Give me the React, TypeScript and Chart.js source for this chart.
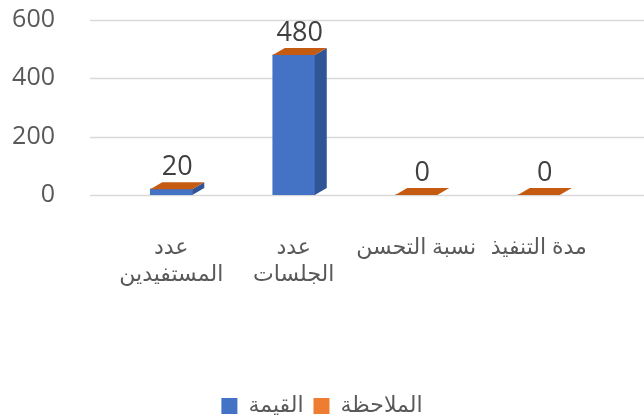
import { useEffect, useRef } from "react";
import { Chart, registerables } from "chart.js";

Chart.register(...registerables);

const categories: (string | string[])[] = [["عدد", "المستفيدين"], ["عدد", "الجلسات"], "نسبة التحسن", "مدة التنفيذ"];
const valueSeries = [20, 480, 0, 0];
const noteSeries = [0, 0, 0, 0];
const seriesNames = ["القيمة", "الملاحظة"];
const yMin = 0;
const yMax = 600;
const yStep = 200;

const FONT = "'Open Sans', 'DejaVu Sans', sans-serif";

const wideGrid = {
  id: "wideGrid",
  beforeDatasetsDraw(chart: any) {
    const ctx = chart.ctx as CanvasRenderingContext2D;
    const ys = chart.scales.y;
    ctx.save();
    ctx.strokeStyle = "#d9d9d9";
    ctx.lineWidth = 1.5;
    ys.ticks.forEach((t: any) => {
      const py = Math.round(ys.getPixelForValue(t.value)) + 0.5;
      ctx.beginPath();
      ctx.moveTo(90, py);
      ctx.lineTo(chart.width, py);
      ctx.stroke();
    });
    ctx.restore();
  },
};

const bar3d = {
  id: "bar3d",
  afterDatasetsDraw(chart: any) {
    const ctx = chart.ctx as CanvasRenderingContext2D;
    const meta = chart.getDatasetMeta(0);
    const dx = 12;
    const dy = 7;
    meta.data.forEach((el: any, i: number) => {
      const { x, y, base, width } = el.getProps(["x", "y", "base", "width"], true);
      const l = x - width / 2;
      const r = x + width / 2;
      ctx.save();
      if (base - y > 1) {
        ctx.fillStyle = "#2f5597";
        ctx.beginPath();
        ctx.moveTo(r, y);
        ctx.lineTo(r + dx, y - dy);
        ctx.lineTo(r + dx, base - dy);
        ctx.lineTo(r, base);
        ctx.closePath();
        ctx.fill();
      }
      ctx.fillStyle = "#c55a11";
      ctx.beginPath();
      ctx.moveTo(l, y);
      ctx.lineTo(l + dx, y - dy);
      ctx.lineTo(r + dx, y - dy);
      ctx.lineTo(r, y);
      ctx.closePath();
      ctx.fill();
      ctx.fillStyle = "#404040";
      ctx.font = `27px ${FONT}`;
      ctx.textAlign = "center";
      ctx.textBaseline = "bottom";
      ctx.fillText(String(valueSeries[i]), x + dx / 2, y - dy - 1);
      ctx.restore();
    });
  },
};

export default function App() {
  const ref = useRef<HTMLCanvasElement>(null);
  useEffect(() => {
    if (!ref.current) return;
    const chart = new Chart(ref.current, {
      type: "bar",
      data: {
        labels: categories,
        datasets: [
          { label: seriesNames[0], data: valueSeries, backgroundColor: "#4472c4", barThickness: 42 },
          { label: seriesNames[1], data: noteSeries, backgroundColor: "#ed7d31", barThickness: 42 },
        ],
      },
      plugins: [wideGrid, bar3d],
      options: {
        animation: false,
        responsive: false,
        maintainAspectRatio: false,
        layout: { padding: { top: 20, left: 0, right: 0, bottom: -8 } },
        plugins: {
          tooltip: { enabled: false },
          legend: {
            position: "bottom",
            labels: {
              boxWidth: 16,
              boxHeight: 16,
              padding: 10,
              color: "#595959",
              font: { size: 22, family: FONT },
            },
          },
        },
        scales: {
          x: {
            stacked: true,
            grid: { display: false },
            border: { display: false },
            ticks: {
              color: "#595959",
              font: { size: 22, family: FONT },
              padding: 32,
              maxRotation: 0,
              autoSkip: false,
            },
            afterFit(scale: any) {
              scale.height = 190;
              scale.paddingLeft = 0;
              scale.paddingRight = 0;
            },
          },
          y: {
            stacked: true,
            min: yMin,
            max: yMax,
            ticks: {
              stepSize: yStep,
              color: "#595959",
              font: { size: 25, family: FONT },
              padding: 47,
            },
            grid: { display: false },
            border: { display: false },
            afterFit(scale: any) {
              scale.width = 110;
              scale.paddingTop = 0;
              scale.paddingBottom = 0;
            },
          },
          y2: {
            position: "right",
            min: yMin,
            max: yMax,
            ticks: { display: false },
            grid: { display: false },
            border: { display: false },
            afterFit(scale: any) {
              scale.width = 44;
              scale.paddingTop = 0;
              scale.paddingBottom = 0;
            },
          },
        },
      },
    });
    return () => chart.destroy();
  }, []);
  return (
    <div style={{ position: "absolute", left: 0, top: 0, width: 644, height: 419, background: "#fff" }}>
      <canvas ref={ref} width={644} height={419} />
    </div>
  );
}
